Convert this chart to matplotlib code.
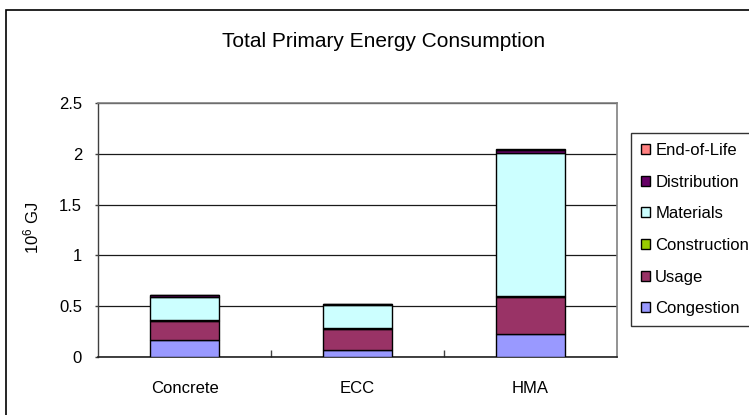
import matplotlib
matplotlib.use("Agg")
import matplotlib.pyplot as plt
from matplotlib.patches import Rectangle, Patch
import numpy as np

plt.rcParams['font.family'] = ['Liberation Sans', 'DejaVu Sans']

categories = ["Concrete", "ECC", "HMA"]
# stacked from the bottom up
congestion = [0.170, 0.075, 0.228]
usage = [0.190, 0.205, 0.360]
construction = [0.005, 0.003, 0.012]
materials = [0.230, 0.235, 1.410]
distribution = [0.015, 0.005, 0.030]
end_of_life = [0.002, 0.001, 0.002]

series_names = ["Congestion", "Usage", "Construction", "Materials",
                "Distribution", "End-of-Life"]
series_values = [congestion, usage, construction, materials,
                 distribution, end_of_life]
series_colors = ["#9999FF", "#993366", "#99CC00", "#CCFFFF",
                 "#660066", "#FF8080"]

y_ticks = [0, 0.5, 1, 1.5, 2, 2.5]
y_tick_labels = ["0", "0.5", "1", "1.5", "2", "2.5"]

W, H = 749, 415
fig = plt.figure(figsize=(W / 100, H / 100), dpi=100)
ax = fig.add_axes([98 / W, 1 - 357.3 / H, (617 - 98) / W, (357.3 - 102.7) / H])

x = np.arange(len(categories))
bottom = np.zeros(len(categories))
handles = []
for name, vals, col in zip(series_names, series_values, series_colors):
    vals = np.asarray(vals)
    ax.bar(x, vals, width=0.4, bottom=bottom, color=col,
           edgecolor="black", linewidth=1.0, zorder=3)
    bottom += vals
    handles.append(Patch(facecolor=col, edgecolor="black", linewidth=1.0,
                         label=name))

ax.set_xlim(-0.5, 2.5)
ax.set_ylim(0, 2.5)
ax.set_yticks(y_ticks)
ax.set_yticklabels(y_tick_labels)
ax.set_xticks(x)
ax.set_xticklabels(categories)
ax.set_xticks([0.5, 1.5], minor=True)

ax.tick_params(axis="x", which="major", length=0, pad=17, labelsize=12)
ax.tick_params(axis="x", which="minor", direction="in", length=5,
               width=1, color="#404040")
ax.tick_params(axis="y", which="major", direction="out", length=2.5,
               width=1, color="#404040", pad=9, labelsize=12)

ax.yaxis.grid(True, color="#1a1a1a", linewidth=0.9, zorder=0)
ax.set_axisbelow(True)
for side in ("top", "right"):
    ax.spines[side].set_color("#808080")
    ax.spines[side].set_linewidth(1.2)
ax.spines["left"].set_color("#404040")
ax.spines["bottom"].set_color("#202020")
ax.spines["left"].set_linewidth(1.0)
ax.spines["bottom"].set_linewidth(1.2)

ax.set_ylabel(r"$\mathregular{10^6}$ GJ", fontsize=12)
ax.yaxis.set_label_coords(-(98 - 41) / (617 - 98), 0.51)

fig.text(384 / W, 1 - 46.7 / H, "Total Primary Energy Consumption",
         ha="center", va="baseline", fontsize=15)

leg = fig.legend(handles=handles[::-1], loc="upper left",
                 bbox_to_anchor=(631 / W, 1 - 133 / H),
                 fontsize=12, frameon=True, fancybox=False,
                 edgecolor="black", borderaxespad=0, borderpad=0.6,
                 handlelength=0.55, handleheight=0.55, handletextpad=0.3,
                 labelspacing=1.0)
leg.get_frame().set_linewidth(1.0)

# chart-area border
fig.add_artist(Rectangle((5.5 / W, -0.2), 1.2, 1.2 - 10.5 / H,
                         transform=fig.transFigure, fill=False,
                         edgecolor="black", linewidth=1.2, clip_on=False))

fig.savefig("out.png", dpi=100)
